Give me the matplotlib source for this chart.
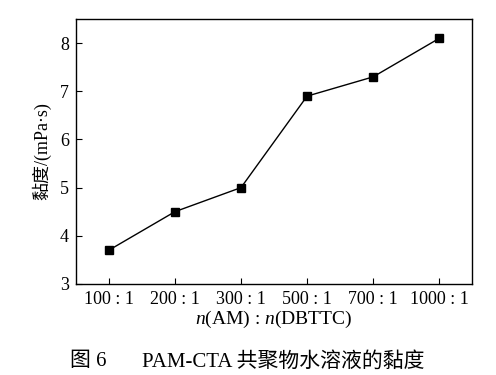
import matplotlib
matplotlib.use('Agg')
import matplotlib.pyplot as plt

# ratio n(AM):n(DBTTC) and viscosity (mPa·s)
ratios = ['100 : 1', '200 : 1', '300 : 1', '500 : 1', '700 : 1', '1000 : 1']
viscosity = [3.7, 4.5, 5.0, 6.9, 7.3, 8.1]

plt.rcParams['font.family'] = ['Liberation Serif', 'Noto Sans CJK SC']
plt.rcParams['mathtext.fontset'] = 'custom'
plt.rcParams['mathtext.rm'] = 'Liberation Serif'
plt.rcParams['mathtext.it'] = 'Liberation Serif:italic'

fig = plt.figure(figsize=(4.96, 3.75), dpi=100)
ax = fig.add_axes([0.153, 0.243, 0.799, 0.706])

x = range(len(ratios))
ax.plot(x, viscosity, color='black', linewidth=1.0, marker='s', markersize=6)

ax.set_xlim(-0.5, 5.5)
ax.set_ylim(3, 8.5)
ax.set_xticks(list(x))
ax.set_xticklabels(ratios)
ax.set_yticks([3, 4, 5, 6, 7, 8])
ax.tick_params(direction='in', length=4, width=0.8, labelsize=13, pad=5)
for s in ax.spines.values():
    s.set_linewidth(1.0)

ax.set_xlabel('$n$(AM) : $n$(DBTTC)', fontsize=14, labelpad=1)
ax.set_ylabel('黏度/(mPa·s)', fontsize=13, labelpad=6)

# figure caption
fig.text(70 / 496, 0.035, '图 6', ha='left', va='center', fontsize=15)
fig.text(142 / 496, 0.035, 'PAM-CTA 共聚物水溶液的黏度', ha='left', va='center', fontsize=15)

fig.savefig('out.png', dpi=100)
